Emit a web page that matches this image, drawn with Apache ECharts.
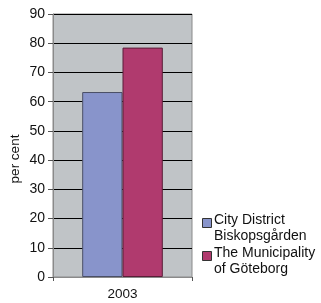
<!DOCTYPE html>
<html>
<head>
<meta charset="utf-8">
<script src="https://cdn.jsdelivr.net/npm/echarts@6/dist/echarts.min.js"></script>
<style>
  html, body { margin: 0; padding: 0; background: #fff; }
  #chart { width: 321px; height: 303px; }
</style>
</head>
<body>
<div id="chart"></div>
<script>
// data
const categories = ["2003"];
const seriesNames = ["City District\nBiskopsgården", "The Municipality\nof Göteborg"];
const seriesColors = ["#8894cb", "#b03a6e"];
const districtValues = [63.3];
const cityValues = [78.5];
const yTicks = { min: 0, max: 90, step: 10 };

const chart = echarts.init(document.getElementById("chart"));
const font = "Liberation Sans, Arial, sans-serif";

// legend drawn by hand so the swatch sits on the first text line
const legendItems = [];
seriesNames.forEach((name, i) => {
  const top = 212 + i * 33;
  legendItems.push({
    type: "rect",
    shape: { x: 202.5, y: top + 6.5, width: 9, height: 9 },
    style: { fill: seriesColors[i], stroke: "#333", lineWidth: 1 }
  });
  legendItems.push({
    type: "text",
    x: 214, y: top,
    style: { text: name, font: "14px " + font, fill: "#111", lineHeight: 16 }
  });
});

chart.setOption({
  animation: false,
  grid: {
    left: 53, right: 129, top: 14, bottom: 26,
    show: true,
    backgroundColor: "#c0c4c7",
    borderColor: "#8a8a8a",
    borderWidth: 1
  },
  graphic: legendItems.concat([
    {
      type: "text",
      x: 15, y: 159,
      rotation: Math.PI / 2,
      style: { text: "per cent", font: "13.5px " + font, fill: "#111", align: "center", verticalAlign: "middle" }
    }
  ]),
  xAxis: {
    type: "category",
    data: categories,
    axisLine: { lineStyle: { color: "#8a8a8a" } },
    axisTick: { show: true, length: 4, lineStyle: { color: "#555" } },
    axisLabel: { fontFamily: font, fontSize: 13.5, color: "#111", margin: 10 }
  },
  yAxis: {
    type: "value",
    min: yTicks.min,
    max: yTicks.max,
    interval: yTicks.step,
    axisLine: { show: true, lineStyle: { color: "#8a8a8a" } },
    axisTick: { show: true, length: 5, lineStyle: { color: "#555" } },
    axisLabel: { fontFamily: font, fontSize: 14, color: "#111", margin: 8 },
    splitLine: { lineStyle: { color: "#000", width: 1 } }
  },
  series: [
    {
      name: seriesNames[0],
      type: "bar",
      data: districtValues,
      barGap: "0%",
      barCategoryGap: "42%",
      itemStyle: { color: seriesColors[0], borderColor: "#4a4f66", borderWidth: 1 }
    },
    {
      name: seriesNames[1],
      type: "bar",
      data: cityValues,
      barGap: "0%",
      barCategoryGap: "42%",
      itemStyle: { color: seriesColors[1], borderColor: "#5a1d38", borderWidth: 1 }
    }
  ]
});
</script>
</body>
</html>
